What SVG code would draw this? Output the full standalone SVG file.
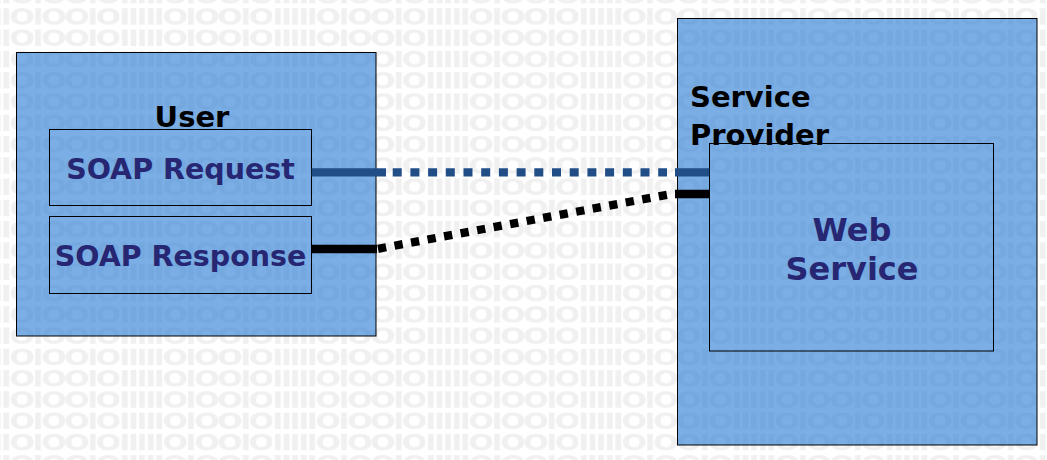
<svg xmlns="http://www.w3.org/2000/svg" width="1047" height="460" viewBox="0 0 1047 460">
  <style>
    .frame { fill: rgb(33,120,210); fill-opacity: 0.6; stroke: #000; stroke-width: 1; }
    .inner { fill: none; stroke: #000; stroke-width: 1; }
    .title { font-family: "DejaVu Sans", Verdana, sans-serif; font-weight: bold; font-size: 29px; fill: #000; }
    .label { font-family: "DejaVu Sans", Verdana, sans-serif; font-weight: bold; font-size: 28.5px; fill: #262673; text-anchor: middle; }
    .ws { font-family: "DejaVu Sans", Verdana, sans-serif; font-weight: bold; font-size: 32px; fill: #262673; text-anchor: middle; }
    .req { stroke: #214e86; stroke-width: 8.3; fill: none; stroke-linecap: butt; }
    .resp { stroke: #000; stroke-width: 8.3; fill: none; stroke-linecap: butt; }
  </style>
  <defs>
    <pattern id="bin" patternUnits="userSpaceOnUse" x="425.2" y="6.3" width="153" height="21.28">
      <text x="0" y="24.66" transform="scale(1,0.73)" font-family="DejaVu Sans, sans-serif" font-weight="bold" font-size="30" letter-spacing="-2.5" fill="#f0f0f0">IIIIIOIOOIO</text>
    </pattern>
  </defs>

  <rect x="0" y="0" width="1047" height="460" fill="#ffffff"/>
  <rect x="0" y="0" width="1047" height="460" fill="url(#bin)"/>

  <g id="user">
    <rect class="frame" x="16.5" y="52.5" width="359.5" height="283.5"/>
    <text class="title" x="192" y="127" text-anchor="middle">User</text>
  </g>

  <g id="soap-request">
    <rect class="inner" x="49.5" y="129.5" width="262" height="76"/>
    <text class="label" x="180.5" y="179">SOAP Request</text>
  </g>

  <g id="soap-response">
    <rect class="inner" x="49.5" y="216.5" width="262" height="77"/>
    <text class="label" x="180.5" y="266">SOAP Response</text>
  </g>

  <g id="service-provider">
    <rect class="frame" x="677.5" y="18.5" width="359.5" height="426.5"/>
    <text class="title" x="690" y="107">Service</text>
    <text class="title" x="690" y="145">Provider</text>
  </g>

  <g id="web-service">
    <rect class="inner" x="709.5" y="143.5" width="284" height="207.5"/>
    <text class="ws" x="852" y="241">Web</text>
    <text class="ws" x="852" y="280">Service</text>
  </g>

  <g id="connectors">
    <line class="req" x1="311.7" y1="172.4" x2="386" y2="172.4"/>
    <line class="req" x1="392.7" y1="172.4" x2="667" y2="172.4" stroke-dasharray="9 8.7"/>
    <line class="req" x1="675" y1="172.4" x2="709.3" y2="172.4"/>
    <line class="resp" x1="311.7" y1="249" x2="377" y2="249"/>
    <line class="resp" x1="378" y1="248.8" x2="668" y2="194.6" stroke-dasharray="8.3 8.5"/>
    <line class="resp" x1="675" y1="194" x2="709.3" y2="194"/>
  </g>
</svg>
